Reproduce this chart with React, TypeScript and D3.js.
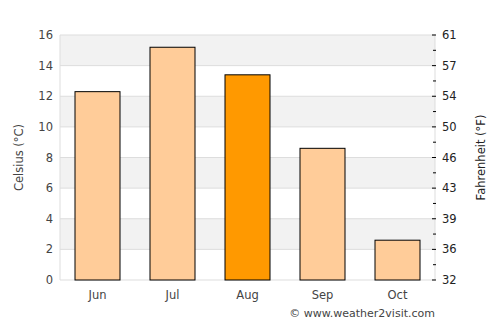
import { useMemo } from "react";
import * as d3 from "d3";

const months = ["Jun", "Jul", "Aug", "Sep", "Oct"];
const celsius = [12.3, 15.2, 13.4, 8.6, 2.6];
const highlight = ["Aug"];
const celsiusTicks = [0, 2, 4, 6, 8, 10, 12, 14, 16];

const WIDTH = 500;
const HEIGHT = 325;
const MARGIN = { top: 35, right: 65, bottom: 45, left: 60 };
const FONT = "DejaVu Sans, sans-serif";
const TEXT = "#444";
const FS = 11.5;

const App = () => {
  const innerW = WIDTH - MARGIN.left - MARGIN.right;
  const innerH = HEIGHT - MARGIN.top - MARGIN.bottom;

  const x = useMemo(
    () => d3.scaleBand<string>().domain(months).range([0, innerW]).paddingInner(0.4).paddingOuter(0.2),
    [innerW]
  );
  const y = useMemo(() => d3.scaleLinear().domain([0, 16]).range([innerH, 0]), [innerH]);

  // minor ticks on the Fahrenheit side, half way between labels
  const minorTicks = d3.range(1, 16, 2);

  return (
    <svg width={WIDTH} height={HEIGHT} style={{ position: "absolute", left: 0, top: 0 }}>
      <g transform={`translate(${MARGIN.left}, ${MARGIN.top})`}>
        {celsiusTicks.slice(0, -1).map((t) =>
          t % 4 === 2 ? (
            <rect key={"b" + t} x={0} y={y(t + 2)} width={innerW} height={y(t) - y(t + 2)} fill="#f2f2f2" />
          ) : null
        )}
        {celsiusTicks.map((t) => (
          <line key={"g" + t} x1={0} x2={innerW} y1={y(t)} y2={y(t)} stroke="#dddddd" strokeWidth={1} />
        ))}
        <line x1={0} x2={0} y1={0} y2={innerH} stroke="#dddddd" />
        <line x1={innerW} x2={innerW} y1={0} y2={innerH} stroke="#dddddd" />

        {months.map((m, i) => (
          <rect
            key={m}
            x={x(m)!}
            y={y(celsius[i])}
            width={x.bandwidth()}
            height={innerH - y(celsius[i])}
            fill={highlight.includes(m) ? "#ff9900" : "#ffcc99"}
            stroke="#000"
            strokeWidth={1}
          />
        ))}

        {celsiusTicks.map((t) => (
          <text key={"l" + t} x={-7} y={y(t)} dy="0.35em" textAnchor="end" fontSize={FS} fontFamily={FONT} fill={TEXT}>
            {t}
          </text>
        ))}
        {celsiusTicks.map((t) => (
          <g key={"r" + t}>
            <line x1={innerW - 3} x2={innerW + 1} y1={y(t)} y2={y(t)} stroke="#000" />
            <text x={innerW + 7} y={y(t)} dy="0.35em" textAnchor="start" fontSize={FS} fontFamily={FONT} fill="#222">
              {Math.round(t * 1.8 + 32)}
            </text>
          </g>
        ))}
        {minorTicks.map((t) => (
          <line key={"m" + t} x1={innerW - 2} x2={innerW + 1} y1={y(t)} y2={y(t)} stroke="#000" />
        ))}

        {months.map((m) => (
          <text
            key={"x" + m}
            x={x(m)! + x.bandwidth() / 2}
            y={innerH + 19}
            textAnchor="middle"
            fontSize={FS}
            fontFamily={FONT}
            fill={TEXT}
          >
            {m}
          </text>
        ))}

        <text
          transform={`translate(${-41}, ${innerH / 2}) rotate(-90)`}
          dy="0.35em"
          textAnchor="middle"
          fontSize={FS}
          fontFamily={FONT}
          fill={TEXT}
        >
          Celsius (°C)
        </text>
        <text
          transform={`translate(${innerW + 46}, ${innerH / 2}) rotate(-90)`}
          dy="0.35em"
          textAnchor="middle"
          fontSize={FS}
          fontFamily={FONT}
          fill="#222"
        >
          Fahrenheit (°F)
        </text>
        <text x={innerW} y={innerH + 37} textAnchor="end" fontSize={11} fontFamily={FONT} fill={TEXT}>
          © www.weather2visit.com
        </text>
      </g>
    </svg>
  );
};

export default App;
